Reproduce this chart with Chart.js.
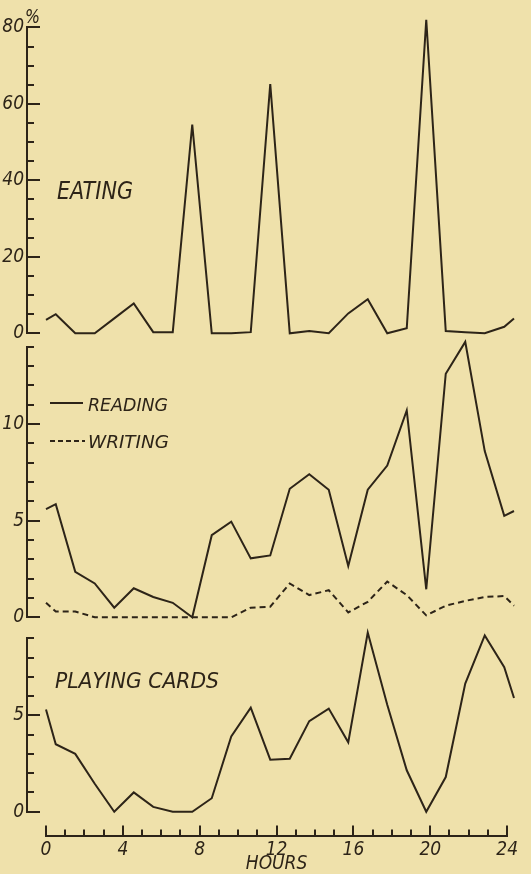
<!DOCTYPE html>
<html>
<head>
<meta charset="utf-8">
<title>Activities by hour</title>
<script src="https://cdn.jsdelivr.net/npm/chart.js@4.4.1/dist/chart.umd.min.js"></script>
<style>
  html, body { margin: 0; padding: 0; background: #efe1ab; }
  #wrap { position: relative; width: 531px; height: 874px; overflow: hidden; }
  #wrap canvas { position: absolute; left: 0; top: 0; }
</style>
</head>
<body>
<div id="wrap">
  <canvas id="eatingChart" width="531" height="874"></canvas>
  <canvas id="readingChart" width="531" height="874"></canvas>
  <canvas id="cardsChart" width="531" height="874"></canvas>
  <canvas id="hoursAxis" width="531" height="874"></canvas>
</div>
<script>
// ======================
// Data (percent of people, by hour of the day)
// ======================
const hours = [0, 0.5, 1.5, 2.5, 3.5, 4.5, 5.5, 6.5, 7.5, 8.5, 9.5, 10.5, 11.5,
               12.5, 13.5, 14.5, 15.5, 16.5, 17.5, 18.5, 19.5, 20.5, 21.5, 22.5, 23.5, 24];

const eating = [3.5, 5.0, 0, 0, 3.9, 7.8, 0.3, 0.3, 54.6, 0, 0, 0.3, 65.2,
                0, 0.6, 0, 5.2, 8.9, 0, 1.3, 82, 0.6, 0.3, 0, 1.7, 3.9];

const reading = [5.6, 5.85, 2.35, 1.75, 0.5, 1.5, 1.05, 0.75, 0, 4.25, 4.95, 3.05, 3.2,
                 6.65, 7.4, 6.6, 2.65, 6.6, 7.85, 10.7, 1.45, 12.6, 14.25, 8.6, 5.25, 5.5];

const writing = [0.75, 0.3, 0.3, 0, 0, 0, 0, 0, 0, 0, 0, 0.5, 0.55,
                 1.75, 1.15, 1.4, 0.25, 0.8, 1.85, 1.15, 0.1, 0.6, 0.85, 1.05, 1.1, 0.6];

const playingCards = [5.3, 3.5, 3.0, 1.45, 0, 1.0, 0.25, 0, 0, 0.7, 3.9, 5.4, 2.7,
                      2.75, 4.7, 5.35, 3.6, 9.3, 5.55, 2.15, 0, 1.8, 6.65, 9.15, 7.5, 5.9];

const eatingTicks = [0, 20, 40, 60, 80];
const readingTicks = [0, 5, 10];
const cardsTicks = [0, 5];
const hourTicks = [0, 4, 8, 12, 16, 20, 24];

// ======================
// Style
// ======================
const ink = '#2d2418';
const letterFont = "'Liberation Sans Narrow', 'DejaVu Sans Condensed', 'DejaVu Sans', sans-serif";
const tickFont = { family: letterFont, size: 19, style: 'italic' };

// x pixel 27 (y axis line) .. 514 = hour 24, hour 0 sits at pixel 46
const X_MIN = -(46 - 27) / 19.5;

// hand lettered labels + legend keys
const panelText = {
  id: 'panelText',
  afterDraw(chart, args, opts) {
    const ctx = chart.ctx;
    (opts.keys || []).forEach(k => {
      ctx.save();
      ctx.strokeStyle = ink;
      ctx.lineWidth = 2;
      ctx.setLineDash(k.dash || []);
      ctx.beginPath();
      ctx.moveTo(k.x, k.y);
      ctx.lineTo(k.x + k.len, k.y);
      ctx.stroke();
      ctx.restore();
    });
    (opts.items || []).forEach(it => {
      ctx.save();
      ctx.font = `italic ${it.size}px ${letterFont}`;
      ctx.fillStyle = ink;
      ctx.textBaseline = 'alphabetic';
      const w = ctx.measureText(it.text).width;
      ctx.translate(it.x, it.y);
      if (it.w) ctx.scale(it.w / w, 1);
      ctx.fillText(it.text, 0, 0);
      ctx.restore();
    });
  }
};

function series(values, dash) {
  return {
    data: hours.map((h, i) => ({ x: h, y: values[i] })),
    borderColor: ink,
    borderWidth: 2,
    borderDash: dash || [],
    pointRadius: 0,
    tension: 0,
    fill: false,
    clip: false
  };
}

function panel(canvasId, datasets, top, bottom, max, step, majors, text) {
  return new Chart(document.getElementById(canvasId), {
    type: 'line',
    data: { datasets },
    options: {
      responsive: false,
      animation: false,
      events: [],
      layout: { padding: { top: top, bottom: 874 - bottom, left: 0, right: 17 } },
      plugins: {
        legend: { display: false },
        tooltip: { enabled: false },
        panelText: text
      },
      scales: {
        x: { type: 'linear', display: false, min: X_MIN, max: 24 },
        y: {
          type: 'linear', position: 'left', weight: 1, min: 0, max: max,
          afterFit: s => { s.width = 27; },
          afterBuildTicks: s => { s.ticks = majors.map(v => ({ value: v })); },
          border: { color: ink, width: 2 },
          grid: { drawOnChartArea: false, color: ink, lineWidth: 2, tickLength: -13 },
          ticks: { color: ink, padding: 16, font: tickFont }
        },
        yMinor: {
          type: 'linear', display: true, position: 'left', weight: 0, min: 0, max: max,
          afterFit: s => { s.width = 0; },
          border: { display: false },
          grid: { drawOnChartArea: false, color: ink, lineWidth: 2, tickLength: -7 },
          ticks: { display: false, stepSize: step }
        }
      }
    },
    plugins: [panelText]
  });
}

// ======================
// Panels
// ======================
panel('eatingChart', [series(eating)], 26.7, 333.3, 80, 5, eatingTicks, {
  items: [
    { text: 'EATING', x: 57, y: 199, w: 76, size: 24 },
    { text: '%', x: 25, y: 23, w: 15, size: 20 }
  ]
});

panel('readingChart', [series(reading), series(writing, [6, 4])], 346.7, 617.3, 14, 1, readingTicks, {
  keys: [
    { x: 50, y: 403, len: 33 },
    { x: 50, y: 441, len: 35, dash: [5, 3] }
  ],
  items: [
    { text: 'READING', x: 88, y: 411, w: 80, size: 17 },
    { text: 'WRITING', x: 88, y: 448, w: 81, size: 17 }
  ]
});

panel('cardsChart', [series(playingCards)], 638.3, 811.7, 9, 1, cardsTicks, {
  items: [
    { text: 'PLAYING CARDS', x: 55, y: 688, w: 164, size: 22 }
  ]
});

// ======================
// Hours axis
// ======================
new Chart(document.getElementById('hoursAxis'), {
  type: 'line',
  data: { datasets: [] },
  options: {
    responsive: false,
    animation: false,
    events: [],
    layout: { padding: { top: 790, left: 46, right: 17, bottom: 0 } },
    plugins: { legend: { display: false }, tooltip: { enabled: false } },
    scales: {
      y: { display: false },
      x: {
        type: 'linear', position: 'bottom', weight: 1, min: 0, max: 24,
        afterFit: s => { s.height = 38.5; },
        afterBuildTicks: s => { s.ticks = hourTicks.map(v => ({ value: v })); },
        border: { color: ink, width: 2 },
        grid: { drawOnChartArea: false, color: ink, lineWidth: 2, tickLength: -10 },
        ticks: { color: ink, padding: 13, font: tickFont, maxRotation: 0, autoSkip: false },
        title: {
          display: true, text: 'HOURS', color: ink, padding: 0,
          font: { family: letterFont, size: 19, style: 'italic', lineHeight: 1.0 }
        }
      },
      xMinor: {
        type: 'linear', display: true, position: 'bottom', weight: 0, min: 0, max: 24,
        afterFit: s => { s.height = 0; },
        border: { display: false },
        grid: { drawOnChartArea: false, color: ink, lineWidth: 2, tickLength: -6 },
        ticks: { display: false, stepSize: 1 }
      }
    }
  }
});
</script>
</body>
</html>
